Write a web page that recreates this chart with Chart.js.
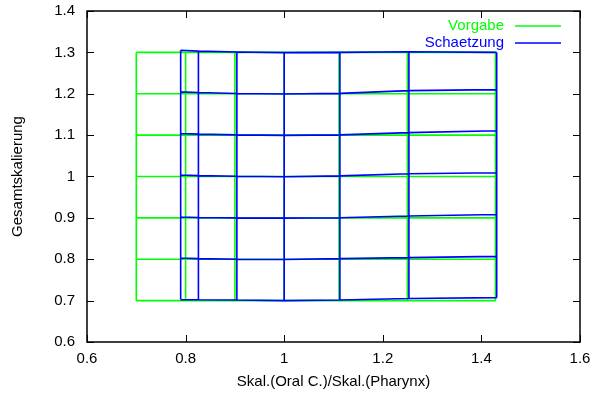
<!DOCTYPE html>
<html>
<head>
<meta charset="utf-8">
<script src="https://cdn.jsdelivr.net/npm/chart.js@4/dist/chart.umd.min.js"></script>
<style>
  html, body { margin: 0; padding: 0; background: #fff; }
  #wrap { width: 598px; height: 396px; position: relative; }
</style>
</head>
<body>
<div id="wrap"><canvas id="gridChart"></canvas></div>
<script>
// Vorgabe-Gitter (Sollwerte)
const vorgabeX = [0.7, 0.8, 0.9, 1.0, 1.1111, 1.25, 1.4286];
const vorgabeY = [0.7, 0.8, 0.9, 1.0, 1.1, 1.2, 1.3];

// Schaetzung: Spalten (x) und pro Zeile die geschaetzten y-Werte
const schaetzungX = [0.79, 0.826, 0.904, 1.0, 1.113, 1.253, 1.431];
const schaetzungY = [
    [0.7025, 0.7022, 0.7015, 0.7000, 0.7015, 0.7050, 0.7072],
    [0.8030, 0.8015, 0.8000, 0.7995, 0.8015, 0.8040, 0.8070],
    [0.9020, 0.9008, 0.9000, 0.8995, 0.9003, 0.9045, 0.9080],
    [1.0035, 1.0022, 1.0005, 0.9995, 1.0015, 1.0065, 1.0090],
    [1.1040, 1.1025, 1.1005, 1.0995, 1.1005, 1.1060, 1.1105],
    [1.2045, 1.2030, 1.2005, 1.1995, 1.2010, 1.2075, 1.2100],
    [1.3050, 1.3030, 1.3010, 1.2995, 1.3000, 1.3015, 1.3000],
];

// Achsenbeschriftungen
const xTickValues = [0.6, 0.8, 1.0, 1.2, 1.4, 1.6];
const xTickLabels = ['0.6', '0.8', '1', '1.2', '1.4', '1.6'];
const yTickValues = [0.6, 0.7, 0.8, 0.9, 1.0, 1.1, 1.2, 1.3, 1.4];
const yTickLabels = ['0.6', '0.7', '0.8', '0.9', '1', '1.1', '1.2', '1.3', '1.4'];

const GREEN = '#00ff00';
const BLUE = '#0000ff';
const FONT = { family: "'Liberation Sans', Arial, sans-serif", size: 15 };

/**
 * Baut aus Spalten- und Zeilenwerten einen Gitterzug (Zeilen, dann Spalten),
 * getrennt durch Luecken.
 */
function buildGrid(xs, yAt) {
    const pts = [];
    for (let i = 0; i < yAt.length; i++) {
        xs.forEach((x, j) => pts.push({ x: x, y: yAt[i][j] }));
        pts.push({ x: null, y: null });
    }
    xs.forEach((x, j) => {
        for (let i = 0; i < yAt.length; i++) pts.push({ x: x, y: yAt[i][j] });
        pts.push({ x: null, y: null });
    });
    return pts;
}

const vorgabeRows = vorgabeY.map(y => vorgabeX.map(() => y));

// Rahmen mit Ticks nach innen, wie bei gnuplot
const framePlugin = {
    id: 'frame',
    afterDatasetsDraw(chart) {
        const { ctx, chartArea: a, scales } = chart;
        ctx.save();
        ctx.strokeStyle = '#000';
        ctx.lineWidth = 1.5;
        ctx.strokeRect(a.left, a.top, a.right - a.left, a.bottom - a.top);
        ctx.lineWidth = 1;
        const len = 7;
        ctx.beginPath();
        xTickValues.forEach(v => {
            const px = Math.round(scales.x.getPixelForValue(v)) + 0.5;
            ctx.moveTo(px, a.bottom); ctx.lineTo(px, a.bottom - len);
            ctx.moveTo(px, a.top); ctx.lineTo(px, a.top + len);
        });
        yTickValues.forEach(v => {
            const py = Math.round(scales.y.getPixelForValue(v)) + 0.5;
            ctx.moveTo(a.left, py); ctx.lineTo(a.left + len, py);
            ctx.moveTo(a.right, py); ctx.lineTo(a.right - len, py);
        });
        ctx.stroke();

        // Legende oben rechts
        ctx.font = FONT.size + 'px ' + FONT.family;
        ctx.textAlign = 'right';
        ctx.textBaseline = 'middle';
        const entries = [['Vorgabe', GREEN, 26], ['Schaetzung', BLUE, 43]];
        entries.forEach(([label, color, y]) => {
            ctx.fillStyle = color;
            ctx.fillText(label, 504, y);
            ctx.strokeStyle = color;
            ctx.lineWidth = 1.5;
            ctx.beginPath();
            ctx.moveTo(515, y);
            ctx.lineTo(561, y);
            ctx.stroke();
        });
        ctx.restore();
    }
};

Chart.defaults.color = '#000';
Chart.defaults.font.family = FONT.family;
Chart.defaults.font.size = FONT.size;

new Chart(document.getElementById('gridChart').getContext('2d'), {
    type: 'line',
    data: {
        datasets: [
            {
                label: 'Schaetzung',
                data: buildGrid(schaetzungX, schaetzungY),
                borderColor: BLUE,
                borderWidth: 1.6,
                pointRadius: 0,
                spanGaps: false,
                order: 1,
            },
            {
                label: 'Vorgabe',
                data: buildGrid(vorgabeX, vorgabeRows),
                borderColor: GREEN,
                borderWidth: 1.6,
                pointRadius: 0,
                spanGaps: false,
                order: 2,
            },
        ]
    },
    options: {
        responsive: true,
        maintainAspectRatio: false,
        animation: false,
        layout: { padding: { top: 11, right: 18, left: 0, bottom: 0 } },
        plugins: {
            legend: { display: false },
            tooltip: { enabled: false },
        },
        elements: { line: { tension: 0 } },
        scales: {
            x: {
                type: 'linear',
                min: 0.6,
                max: 1.6,
                afterBuildTicks: s => { s.ticks = xTickValues.map(v => ({ value: v })); },
                afterFit: s => { s.height = 54; s.paddingLeft = 0; s.paddingRight = 0; },
                grid: { display: false, drawTicks: false },
                border: { display: false },
                ticks: {
                    padding: 8,
                    maxRotation: 0,
                    callback: (v, i) => xTickLabels[i],
                },
                title: {
                    display: true,
                    text: 'Skal.(Oral C.)/Skal.(Pharynx)',
                    padding: { top: 0, bottom: 5 },
                },
            },
            y: {
                type: 'linear',
                min: 0.6,
                max: 1.4,
                afterBuildTicks: s => { s.ticks = yTickValues.map(v => ({ value: v })); },
                afterFit: s => { s.width = 87; s.paddingTop = 0; s.paddingBottom = 0; },
                grid: { display: false, drawTicks: false },
                border: { display: false },
                ticks: {
                    padding: 12,
                    callback: (v, i) => yTickLabels[i],
                },
                title: {
                    display: true,
                    text: 'Gesamtskalierung',
                    padding: { top: 9, bottom: 0 },
                },
            },
        },
    },
    plugins: [framePlugin],
});
</script>
</body>
</html>
